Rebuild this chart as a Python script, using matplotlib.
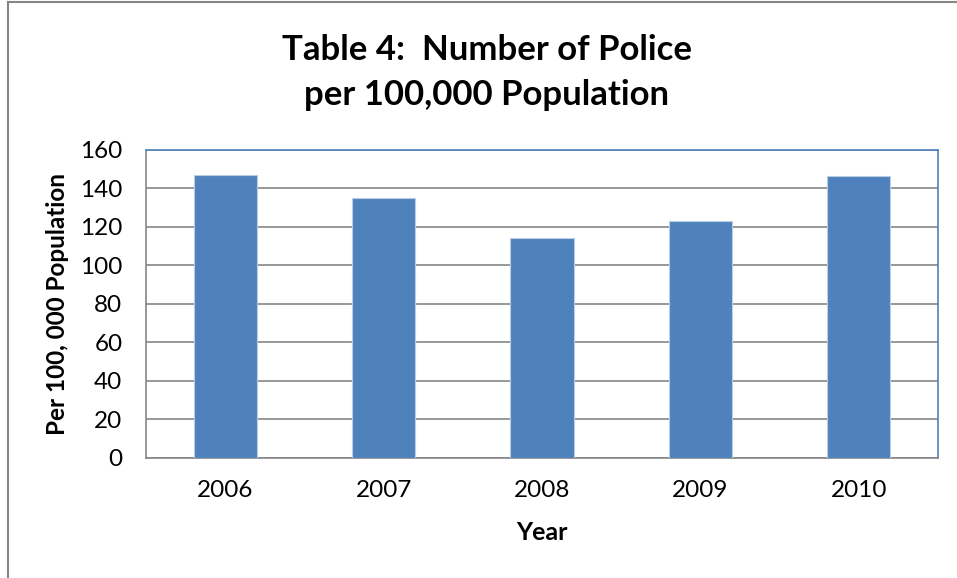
import numpy as np
import matplotlib.pyplot as plt

years = ["2006", "2007", "2008", "2009", "2010"]
police = [147, 135, 114, 123, 146]
yticks = [0, 20, 40, 60, 80, 100, 120, 140, 160]

plt.rcParams['font.family'] = ['Lato', 'DejaVu Sans']

fig = plt.figure(figsize=(9.57, 5.78), dpi=100)
ax = fig.add_axes([146/957, 1-458/578, (938-146)/957, (458-149.5)/578])

x = np.arange(len(years))
ax.bar(x, police, width=0.4, color="#4F81BD", edgecolor="#B9CDE5", linewidth=0.8, zorder=3)

ax.set_xlim(-0.5, len(years) - 0.5)
ax.set_ylim(0, 160)
ax.set_yticks(yticks)
ax.set_xticks(x)
ax.set_xticklabels(years)
ax.tick_params(axis="both", length=0, labelsize=17.5)
ax.tick_params(axis="y", pad=17)
ax.tick_params(axis="x", pad=16)
ax.yaxis.grid(True, color="#868686", linewidth=1.2, zorder=0)

for s in ["left", "bottom"]:
    ax.spines[s].set_color("#868686")
    ax.spines[s].set_linewidth(1.2)
for s in ["top", "right"]:
    ax.spines[s].set_color("#4F81BD")
    ax.spines[s].set_linewidth(1.2)

ax.set_xlabel("Year", fontsize=18, fontweight="bold", labelpad=14)
ax.set_ylabel("Per 100, 000 Population", fontsize=17.5, fontweight="bold")
ax.yaxis.set_label_coords(-0.097, 0.5)

fig.text(487/957, 1-50/578, "Table 4:  Number of Police", ha="center", va="center",
         fontsize=25, fontweight="bold")
fig.text(487/957, 1-95/578, "per 100,000 Population", ha="center", va="center",
         fontsize=25, fontweight="bold")

# outer chart border (only left/top visible in the source)
fig.add_artist(plt.Line2D([8/957, 8/957], [0, 1-2/578], color="#868686", linewidth=1.5))
fig.add_artist(plt.Line2D([8/957, 1], [1-2/578, 1-2/578], color="#868686", linewidth=1.5))

fig.savefig("out.png", dpi=100)
